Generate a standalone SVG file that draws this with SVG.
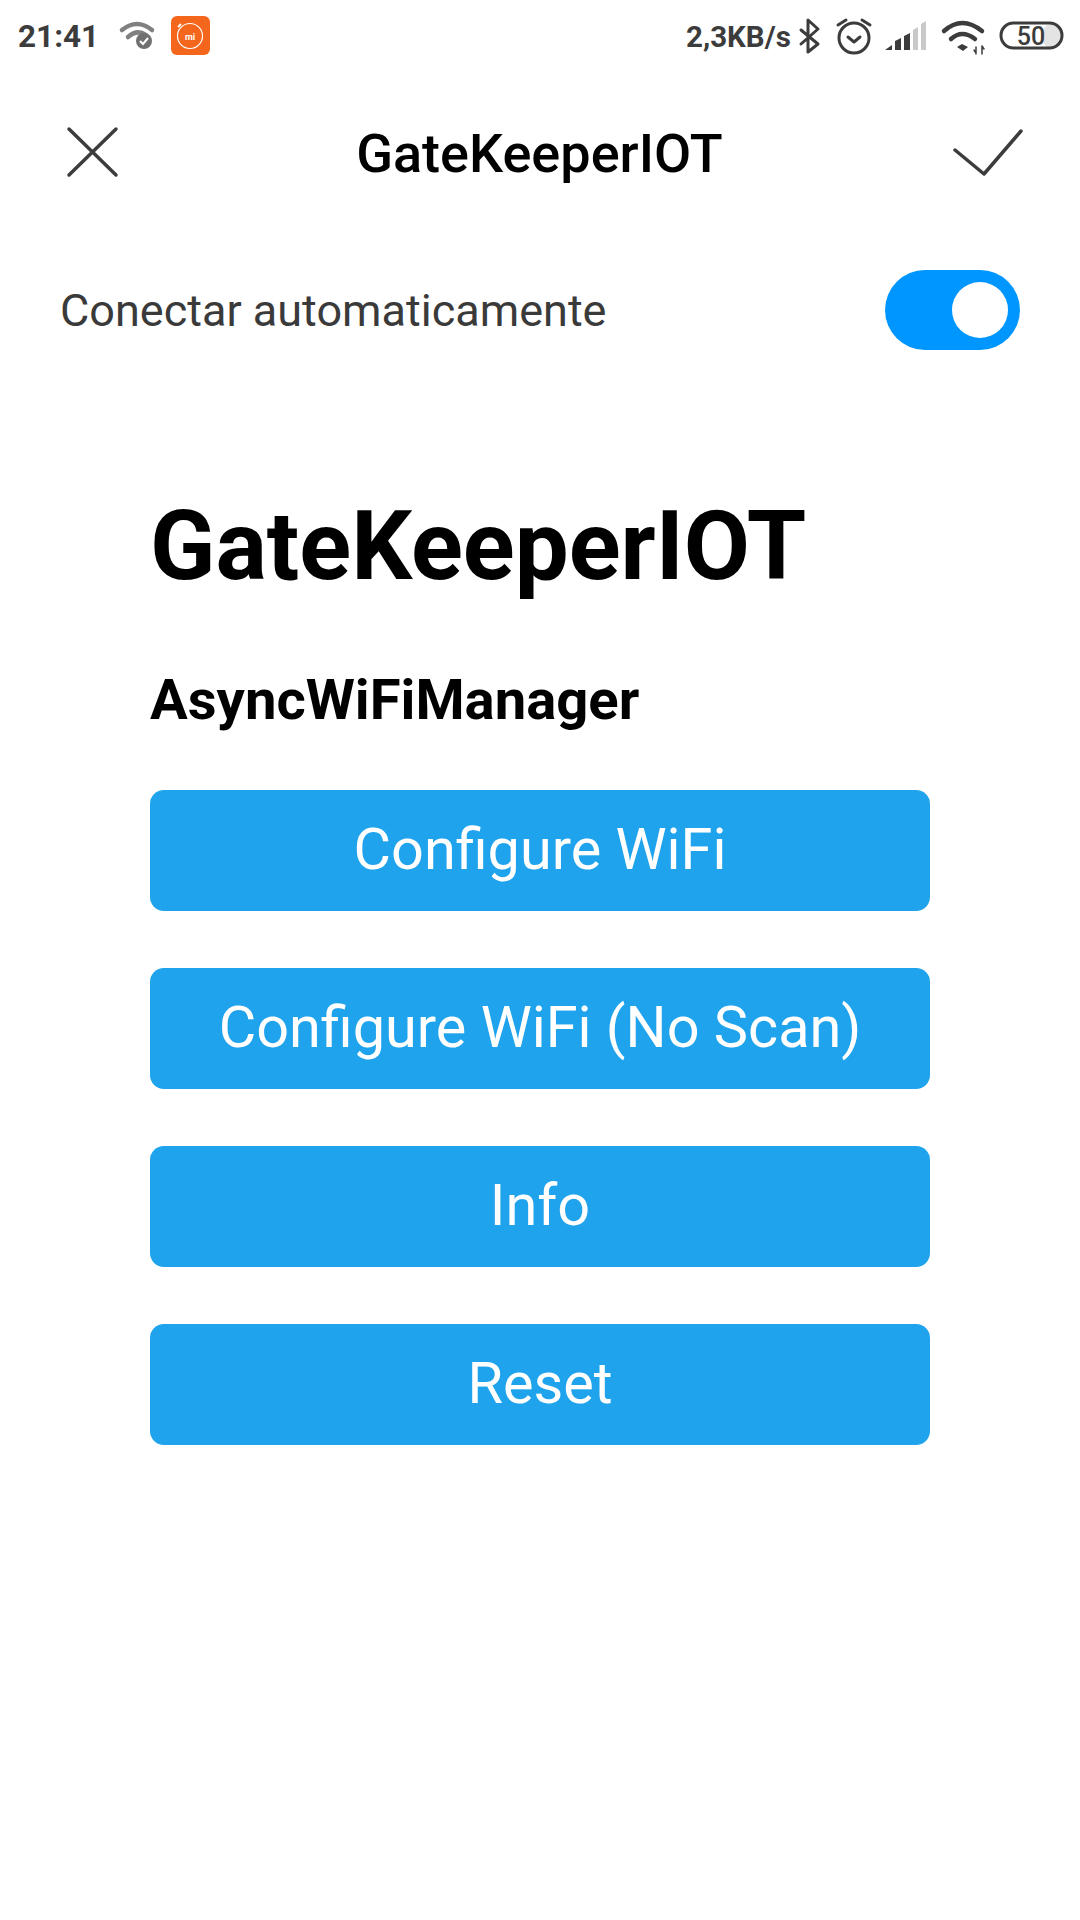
<svg xmlns="http://www.w3.org/2000/svg" width="1080" height="1920" viewBox="0 0 1080 1920">
<style>
text{font-family:Roboto,"Liberation Sans",sans-serif}
.btn{fill:#1fa3ec}
.bt{fill:#fff;font-size:57.6px;text-anchor:middle}
.st{fill:#3c3c3c;font-weight:700}
.ic{fill:none;stroke:#3c3c3c;stroke-linecap:round;stroke-linejoin:round}
</style>
<rect width="1080" height="1920" fill="#fff"/>
<g id="statusbar">
<text class="st" x="18" y="47" font-size="31.500">21:41</text>
<g class="ic" stroke-width="4.500"><path d="M122 30Q137 18 152 30" stroke="#808080"/><path d="M128 37Q137 29 146 35" stroke="#808080"/></g>
<circle cx="144" cy="41" r="8" fill="#707070"/><path d="M140 41l3 3 5-6" fill="none" stroke="#fff" stroke-width="2"/>
<rect x="171" y="16" width="39" height="39" rx="6" fill="#f4661b"/>
<circle cx="190" cy="36" r="12.500" fill="none" stroke="#fff" stroke-width="1.200"/>
<path d="M178 27l3-3" stroke="#fff" stroke-width="2"/>
<text x="190" y="39.500" fill="#fff" font-size="9" font-weight="700" text-anchor="middle">mi</text>
<text class="st" x="686" y="47" font-size="29.500">2,3KB/s</text>
<path class="ic" stroke-width="3" d="M801 30L818 44 808 52V20L818 29 801 44"/>
<g class="ic" stroke-width="3"><circle cx="854" cy="38" r="15"/><path d="M848 37l6 5 6-5M838 25l8-5M870 25l-8-5"/></g>
<g fill="#3c3c3c"><path d="M885 50l7-5v5zM895 50v-9l6-3v12zM904 50V36l6-3v17z"/></g>
<path fill="#c9c9c9" d="M913 50V30l5-3v23zM921 50V24l5-3v29z"/>
<g class="ic" stroke-width="4.500"><path d="M944 31Q962 15 982 31"/><path d="M951 39Q962 29 975 39"/></g>
<path d="M957 47l5-3 6 3-5 4z" fill="#3c3c3c"/>
<path d="M976 54v-7M974 50l2 3M982 46v8M982 46l2 3" class="ic" stroke-width="1.500"/>
<rect x="1042" y="24" width="20" height="24" rx="11" fill="#e4e4e4"/>
<rect x="1001" y="23" width="61" height="25" rx="12.500" fill="none" stroke="#3c3c3c" stroke-width="3"/>
<text x="1031" y="45" fill="#3c3c3c" font-size="25" font-weight="500" text-anchor="middle">50</text>
</g>
<g id="close"><path class="ic" stroke-width="3.500" d="M69 129L116 175M116 129L69 175"/></g>
<text id="header" x="539.500" y="172" fill="#000" font-size="54" font-weight="500" text-anchor="middle">GateKeeperIOT</text>
<g id="confirm"><path class="ic" stroke-width="3.500" d="M955 150L984 174 1021 131"/></g>
<text id="auto" x="60" y="326" fill="#3a3a3a" font-size="45">Conectar automaticamente</text>
<g id="toggle"><rect x="885" y="270" width="135" height="80" rx="40" fill="#0096ff"/><circle cx="980" cy="310" r="28" fill="#fff"/></g>
<text id="title" x="150" y="579" fill="#000" font-size="96" font-weight="700">GateKeeperIOT</text>
<text id="subtitle" x="150" y="719" fill="#000" font-size="56.200" font-weight="700">AsyncWiFiManager</text>
<g id="btn1"><rect class="btn" x="150" y="790" width="780" height="121" rx="14"/><text class="bt" x="540" y="869">Configure WiFi</text></g>
<g id="btn2"><rect class="btn" x="150" y="968" width="780" height="121" rx="14"/><text class="bt" x="540" y="1047">Configure WiFi (No Scan)</text></g>
<g id="btn3"><rect class="btn" x="150" y="1146" width="780" height="121" rx="14"/><text class="bt" x="540" y="1225">Info</text></g>
<g id="btn4"><rect class="btn" x="150" y="1324" width="780" height="121" rx="14"/><text class="bt" x="540" y="1403">Reset</text></g>
</svg>
